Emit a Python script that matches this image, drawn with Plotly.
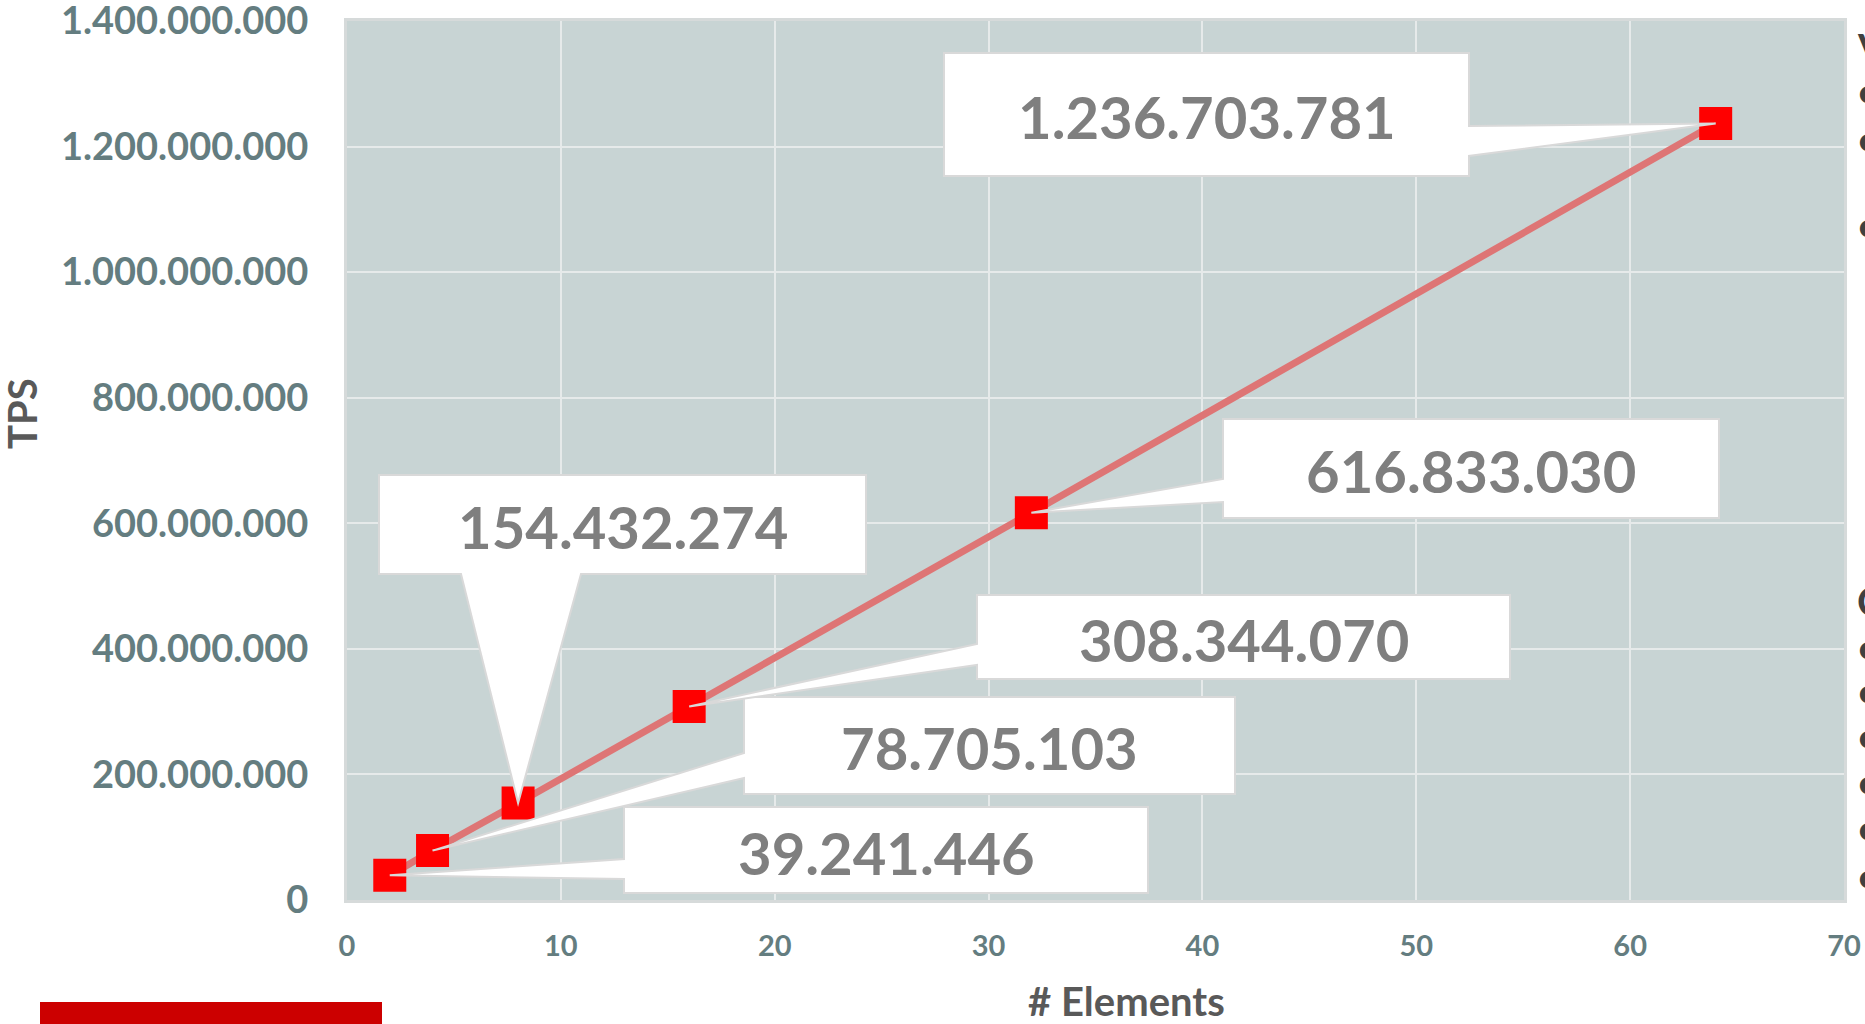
import plotly.graph_objects as go

# ---- data ----
elements = [2, 4, 8, 16, 32, 64]
tps = [39241446, 78705103, 154432274, 308344070, 616833030, 1236703781]
x_tick_vals = [0, 10, 20, 30, 40, 50, 60, 70]
y_tick_vals = [0, 200000000, 400000000, 600000000, 800000000,
               1000000000, 1200000000, 1400000000]
y_tick_text = ["0", "200.000.000", "400.000.000", "600.000.000", "800.000.000",
               "1.000.000.000", "1.200.000.000", "1.400.000.000"]

# ---- layout geometry (pixels) ----
W, H = 1865, 1024
PL, PR, PT, PB = 347, 1844, 21, 900
X_MIN, X_MAX = 0, 70
Y_MIN, Y_MAX = 0, 1400000000


def to_dx(px):
    return X_MIN + (px - PL) / (PR - PL) * (X_MAX - X_MIN)


def to_dy(py):
    return Y_MIN + (PB - py) / (PB - PT) * (Y_MAX - Y_MIN)


def to_px(x):
    return PL + (x - X_MIN) / (X_MAX - X_MIN) * (PR - PL)


def to_py(y):
    return PB - (y - Y_MIN) / (Y_MAX - Y_MIN) * (PB - PT)


def paper_x(px):
    return (px - PL) / (PR - PL)


def paper_y(py):
    return (PB - py) / (PB - PT)


# callout boxes: (x0, x1, y0, y1, side, base_a, base_b) in pixels, one per point
callouts = [
    (624, 1148, 807, 893, "left", 859, 879),
    (744, 1235, 697, 794, "left", 753, 778),
    (379, 866, 475, 574, "bottom", 461, 581),
    (977, 1510, 595, 679, "left", 644, 665),
    (1223, 1719, 419, 518, "left", 479, 502),
    (944, 1469, 53, 176, "right", 126, 156),
]

fig = go.Figure()
fig.add_trace(go.Scatter(
    x=elements, y=tps, mode="lines+markers",
    line=dict(color="#DE7575", width=7),
    marker=dict(symbol="square", size=33, color="#FF0000"),
    hoverinfo="skip", showlegend=False,
))

shapes = []
annotations = []
for i, (x0, x1, y0, y1, side, a, b) in enumerate(callouts):
    tx, ty = to_px(elements[i]), to_py(tps[i])
    if side == "left":
        pts = [(x0, y0), (x1, y0), (x1, y1), (x0, y1), (x0, b), (tx, ty), (x0, a)]
    elif side == "right":
        pts = [(x0, y0), (x1, y0), (x1, a), (tx, ty), (x1, b), (x1, y1), (x0, y1)]
    else:
        pts = [(x0, y0), (x1, y0), (x1, y1), (b, y1), (tx, ty), (a, y1), (x0, y1)]
    path = "M " + " L ".join(f"{to_dx(p[0])},{to_dy(p[1])}" for p in pts) + " Z"
    shapes.append(dict(type="path", path=path, xref="x", yref="y", layer="above",
                       fillcolor="white", line=dict(color="#D9D9D9", width=2)))
    annotations.append(dict(
        x=to_dx((x0 + x1) / 2), y=to_dy((y0 + y1) / 2 + 2), xref="x", yref="y",
        text=f"{tps[i]:,}".replace(",", "."), showarrow=False,
        xanchor="center", yanchor="middle",
        font=dict(family="Lato", size=58, color="#7F7F7F", weight="bold"),
    ))

# red footer bar
shapes.append(dict(type="rect", xref="paper", yref="paper",
                   x0=paper_x(40), x1=paper_x(382), y0=paper_y(1024), y1=paper_y(1002),
                   fillcolor="#CC0000", line=dict(width=0), layer="above"))

# axis titles
annotations.append(dict(x=paper_x(22), y=paper_y(414), xref="paper", yref="paper",
                        text="TPS", textangle=-90, showarrow=False,
                        xanchor="center", yanchor="middle",
                        font=dict(family="Lato", size=40, color="#595959", weight="bold")))
annotations.append(dict(x=paper_x(1126), y=paper_y(1001), xref="paper", yref="paper",
                        text="# Elements", showarrow=False,
                        xanchor="center", yanchor="middle",
                        font=dict(family="Lato", size=40, color="#595959", weight="bold")))

# cut-off slide text at right edge
side_marks = [("V", 48), ("•", 92), ("•", 140), ("•", 226), ("C", 601),
              ("•", 648), ("•", 692), ("•", 737), ("•", 783), ("•", 829), ("•", 877)]
for t, py in side_marks:
    annotations.append(dict(x=paper_x(1855), y=paper_y(py), xref="paper", yref="paper",
                            text=t, showarrow=False, xanchor="left", yanchor="middle",
                            font=dict(family="Lato", size=40, color="#404040", weight="bold")))

fig.update_layout(
    width=W, height=H,
    margin=dict(l=PL, r=W - PR, t=PT, b=H - PB, pad=0, autoexpand=False),
    paper_bgcolor="white", plot_bgcolor="#C8D4D4",
    shapes=shapes, annotations=annotations,
    font=dict(family="Lato"),
)
fig.update_xaxes(
    range=[X_MIN, X_MAX], tickvals=x_tick_vals, automargin=False,
    showgrid=True, gridcolor="#E6EAEA", gridwidth=2, zeroline=False,
    showline=True, mirror=True, linecolor="#D6DADA", linewidth=3,
    ticks="", ticklabelstandoff=18, ticklabeloverflow="allow",
    tickfont=dict(family="Lato", size=29, color="#647D80", weight="bold"),
)
fig.update_yaxes(
    range=[Y_MIN, Y_MAX], tickvals=y_tick_vals, ticktext=y_tick_text, automargin=False,
    showgrid=True, gridcolor="#E6EAEA", gridwidth=2, zeroline=False,
    showline=True, mirror=True, linecolor="#D6DADA", linewidth=3,
    ticks="", ticklabelstandoff=28, ticklabeloverflow="allow",
    tickfont=dict(family="Lato", size=38, color="#647D80", weight="bold"),
)

fig.write_html("out.html")
